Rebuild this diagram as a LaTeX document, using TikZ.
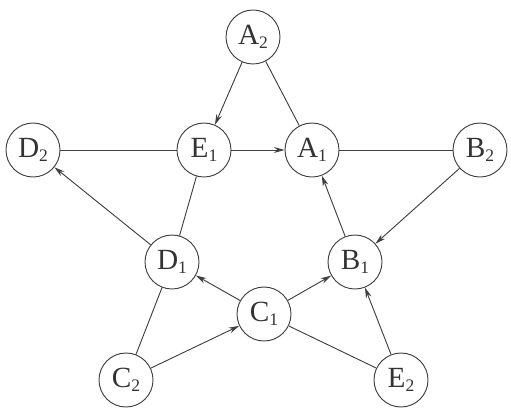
\documentclass[tikz,border=0pt]{standalone}
\usepackage{fontspec}
\setmainfont{Liberation Serif}
\usetikzlibrary{arrows.meta}
\begin{document}
\begin{tikzpicture}[x=0.03cm,y=-0.03cm,
  vert/.style={circle,draw=black!75,line width=0.8pt,minimum size=1.62cm,inner sep=0pt,font=\fontsize{25}{27}\selectfont,text=black!80},
  link/.style={draw=black!75,line width=0.8pt},
  arr/.style={link,-{Stealth[length=9pt,width=5pt]}}]
\useasboundingbox (0,0) rectangle (511,413);
\newcommand{\lbl}[2]{#1\raisebox{-0.3ex}{\fontsize{15}{17}\selectfont #2}}
\node[vert] (A2) at (253,37) {\lbl{A}{2}};
\node[vert] (E1) at (204,150) {\lbl{E}{1}};
\node[vert] (A1) at (312,150) {\lbl{A}{1}};
\node[vert] (D2) at (33,150) {\lbl{D}{2}};
\node[vert] (B2) at (480,150) {\lbl{B}{2}};
\node[vert] (D1) at (172,262) {\lbl{D}{1}};
\node[vert] (B1) at (355,262) {\lbl{B}{1}};
\node[vert] (C1) at (264,314) {\lbl{C}{1}};
\node[vert] (C2) at (126,380) {\lbl{C}{2}};
\node[vert] (E2) at (401,380) {\lbl{E}{2}};
\draw[arr] (A2) -- (E1);
\draw[link] (A2) -- (A1);
\draw[link] (D2) -- (E1);
\draw[arr] (E1) -- (A1);
\draw[link] (A1) -- (B2);
\draw[arr] (B2) -- (B1);
\draw[arr] (D1) -- (D2);
\draw[link] (E1) -- (D1);
\draw[arr] (B1) -- (A1);
\draw[arr] (C1) -- (D1);
\draw[arr] (C1) -- (B1);
\draw[link] (C2) -- (D1);
\draw[arr] (C2) -- (C1);
\draw[link] (C1) -- (E2);
\draw[arr] (E2) -- (B1);
\end{tikzpicture}
\end{document}
